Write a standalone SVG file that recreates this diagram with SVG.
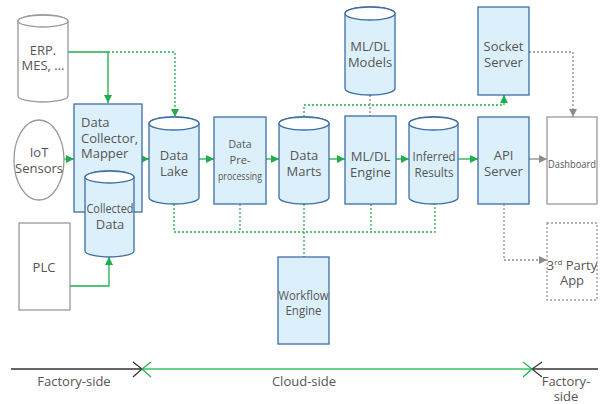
<svg xmlns="http://www.w3.org/2000/svg" width="608" height="404" viewBox="0 0 608 404">
  <defs>
    <marker id="ah-green" viewBox="0 0 8 8" refX="8" refY="4" markerWidth="8" markerHeight="8" markerUnits="userSpaceOnUse" orient="auto">
      <path d="M0,0 L8,4 L0,8 Z" fill="#1fae4b"/>
    </marker>
    <marker id="ah-gray" viewBox="0 0 8 8" refX="8" refY="4" markerWidth="8" markerHeight="8" markerUnits="userSpaceOnUse" orient="auto">
      <path d="M0,0 L8,4 L0,8 Z" fill="#8c8c8c"/>
    </marker>
  </defs>
  <style>
    text { font-family: "Open Sans", "Noto Sans", "DejaVu Sans", sans-serif; font-size: 13px; fill: #555; text-anchor: middle; }
    .sm { font-size: 11.5px; }
    .blue { fill: #dcf0fb; stroke: #3d6ea6; stroke-width: 1.3; }
    .lid { fill: #fff; stroke: #3d6ea6; stroke-width: 1.3; }
    .ext { fill: #fff; stroke: #999; stroke-width: 1.3; }
    .g { fill: none; stroke: #1fae4b; stroke-width: 1.3; }
    .gd { fill: none; stroke: #1fae4b; stroke-width: 1.3; stroke-dasharray: 2 2; }
    .gr { fill: none; stroke: #8c8c8c; stroke-width: 1.3; }
    .grd { fill: none; stroke: #8c8c8c; stroke-width: 1.3; stroke-dasharray: 2 2; }
  </style>
  <rect width="608" height="404" fill="#fff"/>

  <!-- connectors -->
  <g id="connectors">
    <path class="g" d="M68,52 H108 V103" marker-end="url(#ah-green)"/>
    <path class="gd" d="M108,52 H175 V117" marker-end="url(#ah-green)"/>
    <path class="g" d="M64,159 H74" marker-end="url(#ah-green)"/>
    <path class="g" d="M142,159 H149" marker-end="url(#ah-green)"/>
    <path class="g" d="M199,159 H214" marker-end="url(#ah-green)"/>
    <path class="g" d="M266,159 H279" marker-end="url(#ah-green)"/>
    <path class="g" d="M329,159 H345" marker-end="url(#ah-green)"/>
    <path class="g" d="M396,159 H409" marker-end="url(#ah-green)"/>
    <path class="g" d="M458,159 H478" marker-end="url(#ah-green)"/>
    <path class="gr" d="M529,159 H547" marker-end="url(#ah-gray)"/>
    <path class="g" d="M70,286 H109 V257" marker-end="url(#ah-green)"/>
    <path class="gd" d="M304,117 V105 H504 V95" marker-end="url(#ah-green)"/>
    <path class="grd" d="M370,95 V116"/>
    <path class="grd" d="M529,52 H573 V117" marker-end="url(#ah-gray)"/>
    <path class="grd" d="M504,204 V260 H547" marker-end="url(#ah-gray)"/>
    <path class="gd" d="M174,204 V232 H435 V204 M240,204 V232 M304,204 V257 M371,204 V232"/>
  </g>

  <!-- sources -->
  <g id="erp">
    <path class="ext" d="M18,21 V96 A25,6 0 0 0 68,96 V21 A25,6 0 0 0 18,21 Z"/>
    <ellipse class="ext" cx="43" cy="21" rx="25" ry="6"/>
    <text x="43" y="55">ERP.</text>
    <text x="43" y="70">MES, …</text>
  </g>
  <g id="iot">
    <ellipse class="ext" cx="39" cy="160" rx="25" ry="40"/>
    <text x="39" y="157">IoT</text>
    <text x="39" y="173">Sensors</text>
  </g>
  <g id="plc">
    <rect class="ext" x="19" y="223" width="51" height="87"/>
    <text x="44" y="272">PLC</text>
  </g>

  <!-- collector -->
  <g id="collector">
    <rect class="blue" x="74" y="104" width="68" height="108"/>
    <text x="81" y="127" style="text-anchor:start">Data</text>
    <text x="81" y="143" style="text-anchor:start">Collector,</text>
    <text x="81" y="158" style="text-anchor:start">Mapper</text>
  </g>
  <g id="collected-data">
    <path class="blue" d="M85,177 V251 A24.5,6 0 0 0 134,251 V177 A24.5,6 0 0 0 85,177 Z"/>
    <ellipse class="lid" cx="109.5" cy="177" rx="24.5" ry="6"/>
    <text x="110" y="213" textLength="47" lengthAdjust="spacingAndGlyphs">Collected</text>
    <text x="110" y="229">Data</text>
  </g>

  <!-- pipeline -->
  <g id="data-lake">
    <path class="blue" d="M149,123.5 V197.5 A25,6.5 0 0 0 199,197.5 V123.5 A25,6.5 0 0 0 149,123.5 Z"/>
    <ellipse class="lid" cx="174" cy="123.5" rx="25" ry="6.5"/>
    <text x="174" y="160">Data</text>
    <text x="174" y="176">Lake</text>
  </g>
  <g id="pre-processing">
    <rect class="blue" x="214" y="117" width="52" height="87"/>
    <text class="sm" x="240" y="148" textLength="23" lengthAdjust="spacingAndGlyphs">Data</text>
    <text class="sm" x="240" y="164" textLength="21" lengthAdjust="spacingAndGlyphs">Pre-</text>
    <text class="sm" x="240" y="180" textLength="44" lengthAdjust="spacingAndGlyphs">processing</text>
  </g>
  <g id="data-marts">
    <path class="blue" d="M279,123.5 V197.5 A25,6.5 0 0 0 329,197.5 V123.5 A25,6.5 0 0 0 279,123.5 Z"/>
    <ellipse class="lid" cx="304" cy="123.5" rx="25" ry="6.5"/>
    <text x="304" y="160">Data</text>
    <text x="304" y="176">Marts</text>
  </g>
  <g id="ml-models">
    <path class="blue" d="M345,13.5 V88.5 A25,6.5 0 0 0 395,88.5 V13.5 A25,6.5 0 0 0 345,13.5 Z"/>
    <ellipse class="lid" cx="370" cy="13.5" rx="25" ry="6.5"/>
    <text x="370" y="51">ML/DL</text>
    <text x="370" y="67">Models</text>
  </g>
  <g id="ml-engine">
    <rect class="blue" x="345" y="116" width="51" height="88"/>
    <text x="370.5" y="161">ML/DL</text>
    <text x="370.5" y="177">Engine</text>
  </g>
  <g id="inferred-results">
    <path class="blue" d="M409,123.5 V197.5 A24.5,6.5 0 0 0 458,197.5 V123.5 A24.5,6.5 0 0 0 409,123.5 Z"/>
    <ellipse class="lid" cx="433.5" cy="123.5" rx="24.5" ry="6.5"/>
    <text x="434" y="161" textLength="43" lengthAdjust="spacingAndGlyphs">Inferred</text>
    <text x="434" y="177" textLength="39" lengthAdjust="spacingAndGlyphs">Results</text>
  </g>
  <g id="workflow-engine">
    <rect class="blue" x="278" y="257" width="51" height="87"/>
    <text x="303.5" y="300" textLength="50" lengthAdjust="spacingAndGlyphs">Workflow</text>
    <text x="303.5" y="315" textLength="36" lengthAdjust="spacingAndGlyphs">Engine</text>
  </g>

  <!-- serving -->
  <g id="socket-server">
    <rect class="blue" x="478" y="7" width="51" height="88"/>
    <text x="503.5" y="51">Socket</text>
    <text x="503.5" y="67">Server</text>
  </g>
  <g id="api-server">
    <rect class="blue" x="478" y="117" width="51" height="87"/>
    <text x="503.5" y="160">API</text>
    <text x="503.5" y="176">Server</text>
  </g>
  <g id="dashboard">
    <rect class="ext" x="547" y="117" width="50" height="87"/>
    <text class="sm" x="572" y="168" textLength="48" lengthAdjust="spacingAndGlyphs">Dashboard</text>
  </g>
  <g id="third-party-app">
    <rect class="ext" x="547" y="223" width="50" height="77" style="stroke-dasharray:2 2"/>
    <text x="572" y="270"><tspan>3</tspan><tspan dy="-5" style="font-size:8px">rd</tspan><tspan dy="5"> Party</tspan></text>
    <text x="572" y="285">App</text>
  </g>

  <!-- deployment boundary -->
  <g id="boundary">
    <path d="M11,369 H142 M532,369 H598" fill="none" stroke="#666" stroke-width="2"/>
    <path d="M142,369 H532" fill="none" stroke="#6fcf8f" stroke-width="2"/>
    <path d="M133,362 L142,369 L133,377 M542,362 L532,369 L542,377" fill="none" stroke="#333" stroke-width="1.2"/>
    <path d="M151,362 L142,369 L151,377 M523,362 L532,369 L523,377" fill="none" stroke="#1fae4b" stroke-width="1.2"/>
    <text x="74" y="386">Factory-side</text>
    <text x="304" y="386">Cloud-side</text>
    <text x="566" y="386">Factory-</text>
    <text x="566" y="401">side</text>
  </g>
</svg>
